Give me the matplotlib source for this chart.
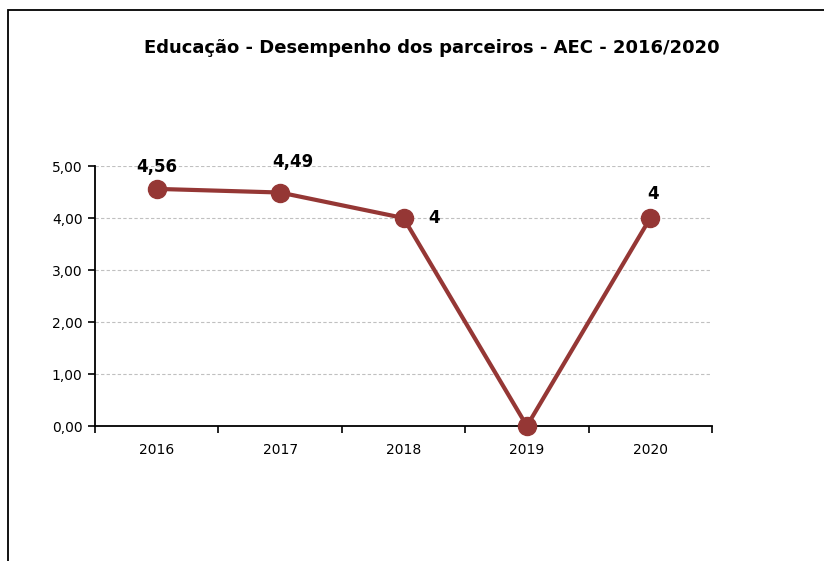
import matplotlib
matplotlib.use('Agg')
import matplotlib.pyplot as plt
from matplotlib.patches import Rectangle

anos = ['2016', '2017', '2018', '2019', '2020']
notas = [4.56, 4.49, 4.0, 0.0, 4.0]
rotulos = ['4,56', '4,49', '4', '', '4']
# deslocamento dos rotulos em pontos (x, y)
desloc = [(0, 16), (9, 22), (22, 0), (0, 0), (2, 17)]

cor = '#953735'

fig = plt.figure(figsize=(8.24, 5.61), dpi=100)
fig.patches.append(Rectangle((8 / 824, -0.1), 1.2, (561 - 10) / 561 + 0.1,
                             transform=fig.transFigure, fill=False,
                             edgecolor='black', linewidth=1.3))

ax = fig.add_axes([95 / 824, 1 - 426 / 561, 617 / 824, 260 / 561])
x = list(range(len(anos)))
ax.plot(x, notas, color=cor, linewidth=3, marker='o', markersize=13,
        clip_on=False, zorder=3)

for i, r in enumerate(rotulos):
    if r:
        ax.annotate(r, (x[i], notas[i]), xytext=desloc[i], textcoords='offset points',
                    ha='center', va='center', fontsize=12, fontweight='bold',
                    family='DejaVu Sans')

ax.set_xlim(-0.5, 4.5)
ax.set_ylim(0, 5)
ax.set_yticks([0, 1, 2, 3, 4, 5])
ax.set_yticklabels(['0,00', '1,00', '2,00', '3,00', '4,00', '5,00'])
ax.set_xticks(x)
ax.set_xticklabels(anos)
ax.set_xticks([i - 0.5 for i in range(len(anos) + 1)], minor=True)
ax.tick_params(axis='x', which='major', length=0, pad=12, labelsize=10)
ax.tick_params(axis='x', which='minor', length=5, width=1.2, direction='out')
ax.tick_params(axis='y', length=5, width=1.2, direction='out', labelsize=10, pad=4)

ax.grid(axis='y', color='#c0c0c0', linestyle=(0, (3, 2)), linewidth=0.8)
ax.set_axisbelow(True)
for s in ['top', 'right']:
    ax.spines[s].set_visible(False)
ax.spines['left'].set_linewidth(1.3)
ax.spines['bottom'].set_linewidth(1.3)

fig.text(432 / 824, 1 - 48 / 561, 'Educação - Desempenho dos parceiros - AEC - 2016/2020',
         ha='center', va='center', fontsize=13, fontweight='bold',
         family='DejaVu Sans')

fig.savefig('out.png', dpi=100)
